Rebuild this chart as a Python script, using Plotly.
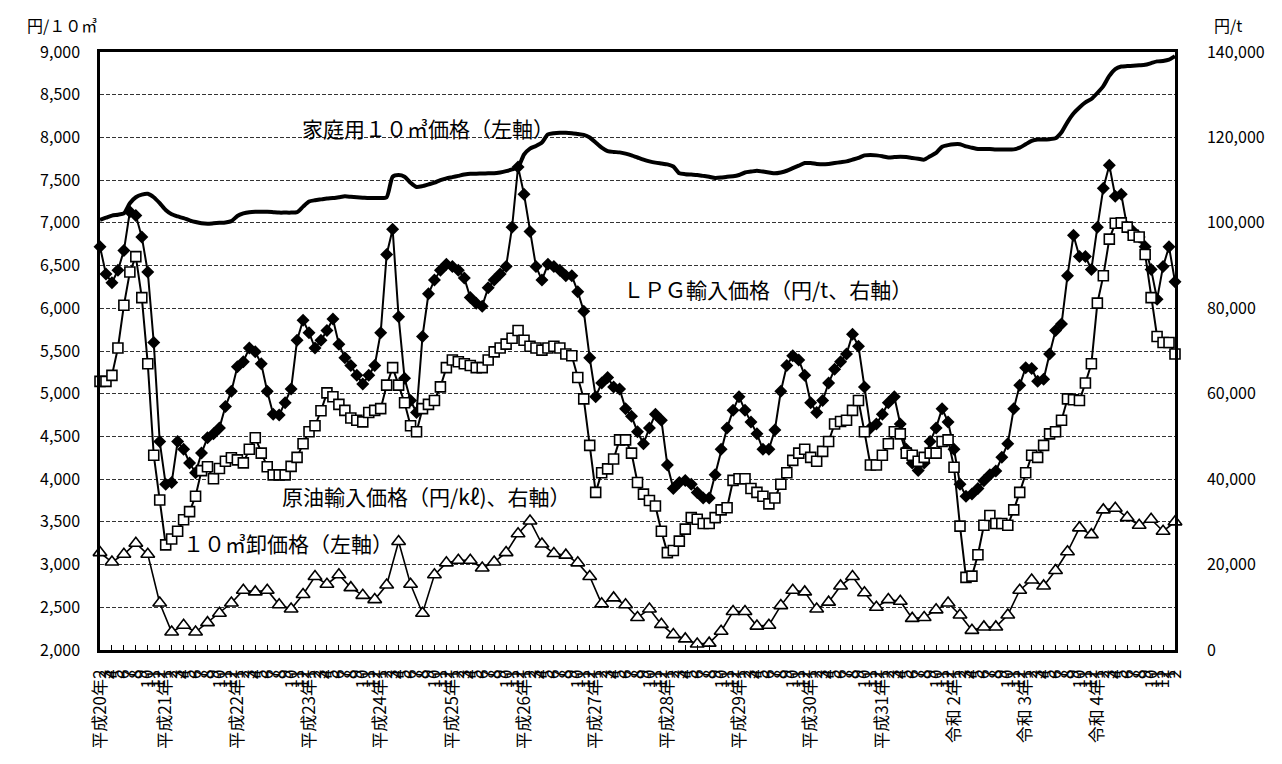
import plotly.graph_objects as go

# ---- data (monthly, 平成20年2月 .. 令和5年2月) ----
era_labels = {2008: "平成20年", 2009: "平成21年", 2010: "平成22年", 2011: "平成23年",
              2012: "平成24年", 2013: "平成25年", 2014: "平成26年", 2015: "平成27年",
              2016: "平成28年", 2017: "平成29年", 2018: "平成30年", 2019: "平成31年",
              2020: "令和 2年", 2021: "令和 3年", 2022: "令和 4年", 2023: ""}
start_year = 2008
start_month = 2

# 家庭用10㎥価格 (left axis, 円/10㎥)
household = [7036, 7060, 7085, 7095, 7110, 7230, 7300, 7330, 7340, 7300,
             7230, 7150, 7100, 7075, 7055, 7030, 7010, 6995, 6990, 6995,
             7000, 7005, 7020, 7080, 7110, 7125, 7130, 7130, 7130, 7125,
             7120, 7120, 7120, 7125, 7190, 7250, 7265, 7275, 7285, 7290,
             7300, 7310, 7305, 7300, 7295, 7290, 7290, 7290, 7300, 7540,
             7560, 7540, 7470, 7420, 7430, 7450, 7470, 7500, 7520, 7535,
             7550, 7565, 7575, 7575, 7578, 7580, 7580, 7590, 7605, 7625,
             7650, 7800, 7870, 7900, 7940, 8035, 8050, 8055, 8055, 8050,
             8040, 8030, 8000, 7940, 7880, 7840, 7830, 7825, 7810, 7790,
             7765, 7740, 7720, 7705, 7695, 7685, 7660, 7580, 7570, 7565,
             7560, 7550, 7540, 7525, 7530, 7540, 7545, 7560, 7590, 7600,
             7610, 7600, 7590, 7580, 7590, 7610, 7640, 7670, 7700, 7700,
             7690, 7685, 7690, 7700, 7710, 7720, 7740, 7760, 7790, 7795,
             7790, 7780, 7765, 7770, 7775, 7770, 7760, 7750, 7740, 7780,
             7820, 7890, 7910, 7920, 7920, 7895, 7880, 7865, 7865, 7865,
             7860, 7860, 7860, 7860, 7880, 7920, 7960, 7975, 7975, 7980,
             7990, 8060, 8180, 8280, 8350, 8410, 8450, 8520, 8600, 8720,
             8800, 8830, 8835, 8840, 8845, 8850, 8870, 8890, 8895, 8910,
             8950]

# LPG輸入価格 (right axis, 円/t)
lpg = [94400, 88000, 86000, 88900, 93500, 102600, 101700, 96700, 88500, 72000,
       48800, 38800, 39200, 48800, 47000, 43800, 41500, 46100, 49700, 50600,
       52000, 57000, 60600, 66300, 67500, 70700, 69800, 67000, 60600, 55200,
       55000, 57900, 61100, 72500, 77200, 74300, 70700, 72500, 74800, 77500,
       71600, 68400, 66600, 64300, 62300, 64300, 66600, 74300, 92600, 98500,
       78000, 63600, 58400, 55600, 73400, 83400, 86600, 88900, 90300, 89800,
       88900, 87100, 82500, 81200, 80500, 84800, 86600, 88000, 89800, 99000,
       113100, 106700, 98000, 89800, 86600, 90300, 89800, 88900, 87600, 87600,
       83900, 79300, 68400, 59300, 62500, 63800, 61600, 61100, 56500, 54700,
       51100, 48300, 52000, 55200, 53800, 43300, 37800, 39200, 39700, 38800,
       36900, 35600, 35600, 41000, 47000, 52000, 56100, 59300, 56100, 53400,
       50600, 47000, 47000, 51500, 60600, 66600, 68900, 67900, 64300, 57900,
       55600, 58400, 62500, 65700, 67500, 69300, 73900, 71100, 61600, 52000,
       52900, 55200, 57900, 59300, 52900, 47000, 43800, 42000, 43800, 48800,
       52000, 56500, 53400, 47000, 38800, 36000, 36500, 37800, 39600, 41000,
       41900, 45100, 48300, 56500, 62000, 66100, 65900, 62900, 63400, 69300,
       74800, 76300, 87600, 97100, 92100, 92100, 89100, 99000, 108100, 113500,
       106200, 106700, 99000, 98000, 96700, 94400, 89100, 82100, 89800, 94400,
       86200]

# 原油輸入価格 (right axis, 円/kℓ)
crude = [62900, 62900, 64300, 70700, 80700, 88500, 92100, 82500, 67000, 45600,
         35100, 24600, 26000, 27800, 30500, 32400, 36000, 42000, 42900, 40100,
         42500, 44200, 45000, 44500, 43800, 47000, 49700, 46100, 42900, 41000,
         41000, 41000, 43000, 45100, 48300, 51100, 52500, 56000, 60200, 59300,
         57500, 56100, 54300, 53800, 53400, 55600, 56100, 56500, 62000, 66100,
         62000, 57900, 52500, 51100, 56500, 57500, 58400, 61600, 66100, 67900,
         67500, 67000, 66600, 66100, 66100, 67900, 69800, 70700, 71600, 73000,
         74800, 72500, 71100, 70700, 70200, 70700, 71100, 70700, 69300, 68900,
         63800, 58800, 47900, 36900, 41500, 42400, 44700, 49200, 49200, 46100,
         39200, 36500, 35000, 33700, 27800, 22800, 23300, 25500, 28300, 31000,
         30600, 29600, 29600, 31000, 32800, 33300, 39700, 40100, 40100, 37800,
         36900, 36000, 34200, 35600, 38800, 41500, 44400, 46100, 47000, 45100,
         44200, 46500, 48800, 52900, 53500, 53800, 56100, 58400, 51100, 43300,
         43300, 45600, 48300, 51100, 50600, 46100, 45600, 44200, 45100, 46100,
         46100, 48800, 49200, 42800, 29000, 17000, 17300, 22300, 29200, 31500,
         29600, 29600, 29200, 32800, 36900, 41500, 45600, 45100, 47900, 50600,
         51100, 53800, 58800, 58600, 58400, 62500, 67000, 81200, 87600, 96200,
         99900, 100000, 99000, 97100, 96700, 92600, 82500, 73400, 72000, 72000,
         69300]

# 10㎥卸価格 (left axis, 円/10㎥) - every second month
wholesale = [3140, 3030, 3120, 3250, 3120, 2550, 2210, 2290, 2210, 2320,
             2430, 2550, 2700, 2680, 2700, 2530, 2480, 2650, 2860, 2770,
             2880, 2730, 2640, 2590, 2760, 3270, 2770, 2430, 2880, 3020,
             3050, 3050, 2960, 3030, 3140, 3360, 3510, 3240, 3130, 3110,
             3020, 2860, 2540, 2610, 2530, 2380, 2480, 2300, 2180, 2130,
             2070, 2080, 2220, 2450, 2450, 2280, 2290, 2520, 2700, 2680,
             2480, 2560, 2750, 2860, 2670, 2500, 2590, 2570, 2370, 2380,
             2470, 2550, 2410, 2230, 2270, 2270, 2410, 2700, 2820, 2750,
             2930, 3150, 3430, 3350, 3640, 3660, 3550, 3460, 3530, 3390,
             3500]

# ---- x positions and tick labels ----
idx = list(range(len(lpg)))
tick_text = []
for k in idx:
    m = (start_month - 1 + k) % 12 + 1
    y = start_year + (start_month - 1 + k) // 12
    if m == 1 or k == 0:
        tick_text.append(era_labels[y] + str(m))
    else:
        tick_text.append(str(m))
idx_w = idx[::2]

FONT = "Noto Sans CJK JP"

fig = go.Figure()
fig.add_trace(go.Scatter(x=idx, y=household, mode="lines", name="家庭用10㎥価格",
                         line=dict(color="black", width=4, shape="spline", smoothing=0.6),
                         yaxis="y", cliponaxis=False))
fig.add_trace(go.Scatter(x=idx_w, y=wholesale, mode="lines+markers", name="10㎥卸価格",
                         line=dict(color="black", width=1.6),
                         marker=dict(symbol="triangle-up", size=12, color="white",
                                     line=dict(color="black", width=1.6)),
                         xaxis="x2", yaxis="y", cliponaxis=False))
fig.add_trace(go.Scatter(x=idx, y=lpg, mode="lines+markers", name="LPG輸入価格",
                         line=dict(color="black", width=2),
                         marker=dict(symbol="diamond", size=10, color="black"),
                         yaxis="y2", cliponaxis=False))
fig.add_trace(go.Scatter(x=idx, y=crude, mode="lines+markers", name="原油輸入価格",
                         line=dict(color="black", width=2),
                         marker=dict(symbol="square", size=10, color="white",
                                     line=dict(color="black", width=1.6)),
                         yaxis="y2", cliponaxis=False))

xr = [idx[0], idx[-1]]
fig.update_layout(
    width=1282, height=764,
    margin=dict(l=92, r=115, t=44, b=122),
    paper_bgcolor="white", plot_bgcolor="white",
    showlegend=False,
    font=dict(family=FONT, color="black", size=15),
    xaxis=dict(range=xr, tickmode="array", tickvals=idx, ticktext=tick_text,
               tickangle=-90, ticks="", showgrid=False, zeroline=False,
               showline=True, linecolor="black", linewidth=2.5, mirror=True,
               tickfont=dict(family=FONT, size=17), ticklabelstandoff=10,
               automargin=False),
    xaxis2=dict(range=xr, overlaying="x", anchor="y", side="bottom",
                tickmode="array", tickvals=idx_w, ticks="inside", ticklen=5,
                tickcolor="black", tickwidth=1, showticklabels=False,
                showgrid=False, zeroline=False, showline=False, automargin=False),
    yaxis=dict(range=[2000, 9000], dtick=500, tick0=2000, tickformat=",",
               showgrid=True, gridcolor="#333333", griddash="4px,2px", gridwidth=1,
               zeroline=False, showline=True, linecolor="black", linewidth=2.5,
               ticks="", tickfont=dict(family=FONT, size=16), ticklabelstandoff=14,
               automargin=False),
    yaxis2=dict(range=[0, 140000], dtick=20000, tick0=0, tickformat=",",
                overlaying="y", side="right", showgrid=False, zeroline=False,
                showline=True, linecolor="black", linewidth=2.5, ticks="",
                tickfont=dict(family=FONT, size=16), ticklabelstandoff=26,
                automargin=False),
)

ann_font = dict(family=FONT, size=21, color="black")
common = dict(showarrow=False, xanchor="center", yanchor="middle")
fig.add_annotation(x=55.0, y=8110, xref="x", yref="y", text="家庭用１０㎥価格（左軸）",
                   font=ann_font, **common)
fig.add_annotation(x=111.8, y=6230, xref="x", yref="y", text="ＬＰＧ輸入価格（円/t、右軸）",
                   font=ann_font, **common)
fig.add_annotation(x=54.6, y=3800, xref="x", yref="y", text="原油輸入価格（円/kℓ)、右軸）",
                   font=ann_font, **common)
fig.add_annotation(x=31.5, y=3250, xref="x", yref="y", text="１０㎥卸価格（左軸）",
                   font=ann_font, **common)
fig.add_annotation(x=-0.035, y=1.045, xref="paper", yref="paper", text="円/１０㎥",
                   font=dict(family=FONT, size=16, color="black"), **common)
fig.add_annotation(x=1.049, y=1.045, xref="paper", yref="paper", text="円/t",
                   font=dict(family=FONT, size=16, color="black"), **common)

fig.write_html("out.html")
